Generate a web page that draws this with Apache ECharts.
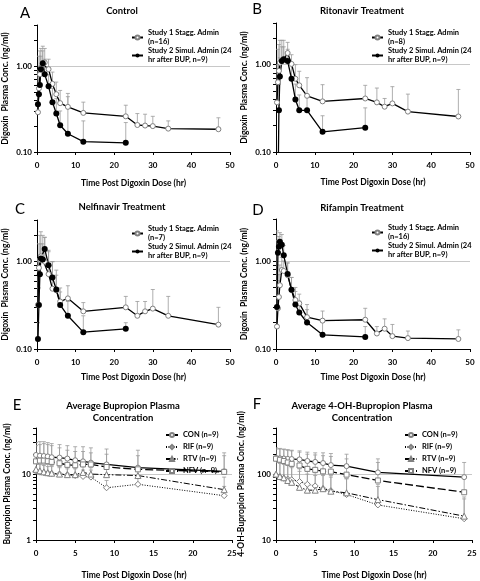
<!DOCTYPE html>
<html><head><meta charset="utf-8">
<script src="https://cdn.jsdelivr.net/npm/echarts@6/dist/echarts.min.js"></script>
<style>html,body{margin:0;padding:0;background:#fff}#c{width:480px;height:581px}</style>
</head><body><div id="c"></div>
<script>
// ---------- Digoxin panels (A-D) ----------
const T1 = [0.25,0.5,0.75,1,1.5,2,3,4,5,6,8,12,23,26,28,30,34,47];   // Study 1 times
const T2 = [0.25,0.5,0.75,1,1.5,2,3,4,5,6,8,12,23];                 // Study 2 times
const T2B = [0.5,0.75,1,1.5,2,3,4,5,6,8,12,23];                     // Study 2 times, panel B

const A_s1 = [0.29,0.55,0.8,0.95,1.05,1.1,0.92,0.62,0.47,0.37,0.335,0.285,0.26,0.206,0.203,0.2,0.187,0.184];
const A_s1Up = [0.9,1.3,1.5,1.6,1.7,1.6,1.2,0.85,0.65,0.52,0.48,0.38,0.35,0.28,0.275,0.26,0.23,0.25];
const A_s2 = [0.36,0.47,0.6,0.92,1.08,0.8,0.58,0.38,0.28,0.205,0.163,0.132,0.128];
const A_s2Up = [0.6,0.8,1.0,1.3,1.5,1.2,0.8,0.55,0.42,0.3,0.44,0.23,0.22];

const B_s1 = [0.37,0.63,0.85,1.05,1.1,1.15,1.36,1.02,0.69,0.58,0.44,0.38,0.41,0.37,0.33,0.36,0.29,0.255];
const B_s1Up = [1.0,1.5,1.7,1.9,1.9,1.9,1.8,1.3,1.0,0.84,0.71,0.59,0.58,0.54,0.41,0.56,0.46,0.52];
const B_s2 = [0.03,0.3,0.73,1.1,1.15,1.1,0.69,0.4,0.3,0.3,0.17,0.19];
const B_s2Up = [0.05,0.6,1.2,1.6,1.6,1.5,1.0,0.6,0.45,0.45,0.26,0.32];

const C_s1 = [0.32,0.85,1.05,1.15,1.05,1.0,0.72,0.49,0.47,0.35,0.38,0.27,0.3,0.24,0.27,0.29,0.24,0.19];
const C_s1Up = [1.0,1.6,2.0,2.2,2.0,1.9,1.35,1.0,0.8,0.5,0.53,0.34,0.4,0.35,0.35,0.48,0.4,0.3];
const C_s2 = [0.13,0.32,0.72,1.09,1.06,1.4,0.91,0.66,0.48,0.32,0.24,0.156,0.17];
const C_s2Up = [0.2,0.5,1.2,1.6,1.6,1.9,1.3,1.0,0.7,0.45,0.35,0.24,0.2];

const D_s1 = [0.18,0.29,0.39,0.53,0.79,0.77,0.69,0.47,0.36,0.33,0.23,0.21,0.215,0.15,0.17,0.14,0.133,0.13];
const D_s1Up = [2.2,0.6,0.7,0.9,1.1,1.0,0.95,0.65,0.5,0.42,0.32,0.27,0.29,0.18,0.22,0.19,0.16,0.165];
const D_s2 = [0.3,1.24,1.45,1.65,1.53,1.16,0.71,0.47,0.32,0.26,0.2,0.145,0.137];
const D_s2Up = [0.5,1.7,1.9,2.1,2.0,1.5,0.95,0.65,0.45,0.35,0.28,0.2,0.18];

// ---------- Bupropion panels (E-F) ----------
const TE = [0,0.5,1,1.5,2,3,4,5,6,7,9,13,24];
const E_CON = [19.5,19,18.8,18.5,18,17.8,17.2,16.2,15.6,14.9,14,12.5,11];
const E_RIF = [11,10.7,10.5,10.3,10.2,10,9.7,9.5,9.2,9,6.2,7,4.7];
const E_RTV = [11.8,11.2,10.8,10.5,10.3,10,9.8,9.8,10.6,10,9.8,9.5,5.8];
const E_NFV = [15.6,16,16,15.7,15.3,14.6,13.8,13.6,14,14,12.8,11.8,10.8];
const E_CONUp = [30,31,31,30,29,28,27,26,26,25,24,23,21];
const E_RIFUp = [14,14,13.5,13,13,12.5,12,12,11.5,11.5,8,9,6.5];
const E_RTVUp = [15,15,14,14,13.5,13,13,12.5,13,12.5,12,11.5,9];
const E_NFVUp = [27,28,29,28,27,25,23,22,22,21,20,19,19];

const F_CON = [175,173,172,170,169,167,158,153,147,137,132,106,90];
const F_RIF = [97,90,86,84,82,77,70,66,60,56,49,34,21];
const F_RTV = [100,92,88,80,75,63,57,57,60,55,52,41,23];
const F_NFV = [171,165,158,150,143,135,120,116,110,109,98,80,53];
const F_CONUp = [250,245,240,235,230,225,215,210,210,205,200,170,150];
const F_RIFUp = [150,145,140,135,130,120,110,105,100,95,85,65,42];
const F_RTVUp = [160,150,145,135,125,110,100,95,95,90,85,70,45];
const F_NFVUp = [240,240,235,230,225,215,200,195,190,185,170,150,90];

const digX = [0,10,20,30,40,50];
const bupX = [0,5,10,15,20,25];

const FONT = 'Lato';
const S1 = ['Study 1 Stagg. Admin\n(n=16)','Study 1 Stagg. Admin\n(n=8)','Study 1 Stagg. Admin\n(n=7)','Study 1 Stagg. Admin\n(n=16)'];
const S2 = 'Study 2 Simul. Admin (24\nhr after BUP, n=9)';
const NAMES = ['CON (n=9)','RIF (n=9)','RTV (n=9)','NFV (n=9)'];

function zip(t, v) { return t.map((x, i) => [x, v[i]]); }
function zip3(t, v, u) { return t.map((x, i) => [x, v[i], u[i]]); }

function errRender(params, api) {
  const p0 = api.coord([api.value(0), api.value(1)]);
  const p1 = api.coord([api.value(0), api.value(2)]);
  const st = { stroke: '#9a9a9a', lineWidth: 0.8 };
  return { type: 'group', children: [
    { type: 'line', shape: { x1: p0[0], y1: p0[1], x2: p1[0], y2: p1[1] }, style: st },
    { type: 'line', shape: { x1: p1[0] - 2, y1: p1[1], x2: p1[0] + 2, y2: p1[1] }, style: st }
  ]};
}
function errSeries(idx, t, v, u) {
  return { type: 'custom', xAxisIndex: idx, yAxisIndex: idx, renderItem: errRender, z: 1,
    encode: { x: 0, y: [1, 2] }, data: zip3(t, v, u), silent: true, clip: true };
}
function lineSeries(idx, name, t, v, opts) {
  return Object.assign({ type: 'line', name, xAxisIndex: idx, yAxisIndex: idx, z: 3,
    data: zip(t, v), symbol: 'circle', symbolSize: 5, clip: true,
    lineStyle: { color: '#000', width: 1.3 },
    itemStyle: { color: '#fff', borderColor: '#808080', borderWidth: 1 } }, opts || {});
}

const grids = [
  { left: 36, top: 25, width: 194, height: 127 },
  { left: 276, top: 23, width: 194, height: 129 },
  { left: 36, top: 220, width: 194, height: 129 },
  { left: 276, top: 219, width: 194, height: 130 },
  { left: 36, top: 428, width: 196, height: 119 },
  { left: 276, top: 428, width: 196, height: 119 }
];

const lblStyle = { fontFamily: FONT, fontWeight: 'bold', fontSize: 8, color: '#000' };
const nameStyle = { fontFamily: FONT, fontWeight: 'bold', fontSize: 8.5, color: '#000' };

function xAxis(idx, ticks, gap) {
  return { type: 'value', gridIndex: idx, min: ticks[0], max: ticks[ticks.length - 1],
    interval: ticks[1] - ticks[0], name: 'Time Post Digoxin Dose (hr)', nameLocation: 'middle',
    nameGap: gap, nameTextStyle: nameStyle,
    axisLine: { lineStyle: { color: '#000', width: 1 } },
    axisTick: { show: true, length: 3, lineStyle: { color: '#000' } },
    axisLabel: Object.assign({ margin: 9 }, lblStyle), splitLine: { show: false } };
}
function yAxis(idx, min, max, name, fmt, gap) {
  return { type: 'log', logBase: 10, gridIndex: idx, min, max, name, nameLocation: 'middle',
    nameGap: gap, nameTextStyle: nameStyle,
    axisLine: { show: true, lineStyle: { color: '#000', width: 1 } },
    axisTick: { show: true, length: 3, lineStyle: { color: '#000' } },
    minorTick: { show: true, splitNumber: 9, length: 3, lineStyle: { color: '#000' } },
    axisLabel: Object.assign({ margin: 5, showMaxLabel: false, formatter: fmt }, lblStyle),
    splitLine: { show: true, showMinLine: false, showMaxLine: false, lineStyle: { color: '#c8c8c8', width: 1 } } };
}
const near = (a, b) => Math.abs(a - b) < 1e-6 * Math.max(1, b);
const digFmt = v => near(v, 1) ? '1.00' : near(v, 0.1) ? '0.10' : '';
const eFmt = v => near(v, 10) ? '10' : near(v, 1) ? '1' : '';
const fFmt = v => near(v, 100) ? '100' : near(v, 10) ? '10' : '';
const DIGY = 'Digoxin  Plasma Conc. (ng/ml)';

const xAxes = [xAxis(0, digX, 27), xAxis(1, digX, 26), xAxis(2, digX, 24), xAxis(3, digX, 24), xAxis(4, bupX, 31), xAxis(5, bupX, 31)];
const yAxes = [
  yAxis(0, 0.1, 3, DIGY, digFmt, 27), yAxis(1, 0.1, 3, DIGY, digFmt, 27),
  yAxis(2, 0.1, 3, DIGY, digFmt, 27), yAxis(3, 0.1, 3, DIGY, digFmt, 27),
  yAxis(4, 1, 50, 'Bupropion Plasma Conc. (ng/ml)', eFmt, 24),
  yAxis(5, 10, 500, '4-OH-Bupropion Plasma Conc. (ng/ml)', fFmt, 30)
];

const s2opts = { symbolSize: 6, itemStyle: { color: '#000', borderColor: '#000', borderWidth: 0 } };
const hollow = { color: '#fff', borderColor: '#808080', borderWidth: 1 };
function bupSet(idx, con, rif, rtv, nfv, conU, rifU, rtvU, nfvU) {
  return [
    errSeries(idx, TE, con, conU), errSeries(idx, TE, rif, rifU), errSeries(idx, TE, rtv, rtvU), errSeries(idx, TE, nfv, nfvU),
    lineSeries(idx, NAMES[0], TE, con, { symbol: 'circle', symbolSize: 5, itemStyle: hollow, lineStyle: { color: '#000', width: 1.3 } }),
    lineSeries(idx, NAMES[1], TE, rif, { symbol: 'diamond', symbolSize: 6, itemStyle: hollow, lineStyle: { color: '#000', width: 1, type: [1, 1.5] } }),
    lineSeries(idx, NAMES[2], TE, rtv, { symbol: 'triangle', symbolSize: 6, itemStyle: hollow, lineStyle: { color: '#000', width: 1, type: [6, 2, 1.5, 2] } }),
    lineSeries(idx, NAMES[3], TE, nfv, { symbol: 'rect', symbolSize: 5, itemStyle: hollow, lineStyle: { color: '#000', width: 1.3, type: [8, 3] } })
  ];
}

const series = [
  errSeries(0, T1, A_s1, A_s1Up), errSeries(0, T2, A_s2, A_s2Up),
  lineSeries(0, S1[0], T1, A_s1), lineSeries(0, S2, T2, A_s2, s2opts),
  errSeries(1, T1, B_s1, B_s1Up), errSeries(1, T2B, B_s2, B_s2Up),
  lineSeries(1, S1[1], T1, B_s1), lineSeries(1, S2, T2B, B_s2, s2opts),
  errSeries(2, T1, C_s1, C_s1Up), errSeries(2, T2, C_s2, C_s2Up),
  lineSeries(2, S1[2], T1, C_s1), lineSeries(2, S2, T2, C_s2, s2opts),
  errSeries(3, T1, D_s1, D_s1Up), errSeries(3, T2, D_s2, D_s2Up),
  lineSeries(3, S1[3], T1, D_s1), lineSeries(3, S2, T2, D_s2, s2opts),
  ...bupSet(4, E_CON, E_RIF, E_RTV, E_NFV, E_CONUp, E_RIFUp, E_RTVUp, E_NFVUp),
  ...bupSet(5, F_CON, F_RIF, F_RTV, F_NFV, F_CONUp, F_RIFUp, F_RTVUp, F_NFVUp)
];

const titleStyle = { fontFamily: FONT, fontWeight: 'bold', fontSize: 9.5, color: '#000', lineHeight: 12 };
const letterStyle = { fontFamily: FONT, fontWeight: 'normal', fontSize: 15, color: '#000' };
function ttl(text, x, y, style) {
  return { text, left: x, top: y, textAlign: 'center', textStyle: style, padding: 0 };
}
const titles = [
  ttl('Control', 122, 5, titleStyle), ttl('Ritonavir Treatment', 362, 5, titleStyle),
  ttl('Nelfinavir Treatment', 122, 201, titleStyle), ttl('Rifampin Treatment', 362, 202, titleStyle),
  ttl('Average Bupropion Plasma\nConcentration', 123, 400, titleStyle),
  ttl('Average 4-OH-Bupropion Plasma\nConcentration', 362, 400, titleStyle),
  ttl('A', 25, 6, letterStyle), ttl('B', 257, 2, letterStyle), ttl('C', 20, 202, letterStyle),
  ttl('D', 258, 203, letterStyle), ttl('E', 17, 398, letterStyle), ttl('F', 257, 397, letterStyle)
];

const legTxt = { fontFamily: FONT, fontWeight: 'bold', fontSize: 7.5, color: '#000', lineHeight: 9, padding: [9, 0, 0, 0] };
function digLegend(x, y, s1name) {
  return { left: x, top: y, orient: 'vertical', data: [s1name, S2], itemWidth: 11, itemHeight: 5, itemGap: -9,
    padding: 0, textStyle: legTxt, selectedMode: false };
}
const bupTxt = { fontFamily: FONT, fontWeight: 'bold', fontSize: 7.5, color: '#000' };
function bupLegend(x, y) {
  return { left: x, top: y, orient: 'vertical', data: NAMES, itemWidth: 12, itemHeight: 5, itemGap: 4,
    padding: 0, textStyle: bupTxt, selectedMode: false };
}

const chart = echarts.init(document.getElementById('c'), null, { renderer: 'canvas' });
chart.setOption({
  animation: false,
  backgroundColor: '#fff',
  title: titles,
  legend: [digLegend(131, 24, S1[0]), digLegend(371, 24, S1[1]), digLegend(131, 220, S1[2]), digLegend(371, 219, S1[3]),
           bupLegend(165, 431), bupLegend(404, 431)],
  grid: grids.map(g => Object.assign({ containLabel: false }, g)),
  xAxis: xAxes,
  yAxis: yAxes,
  series
});
</script></body></html>
